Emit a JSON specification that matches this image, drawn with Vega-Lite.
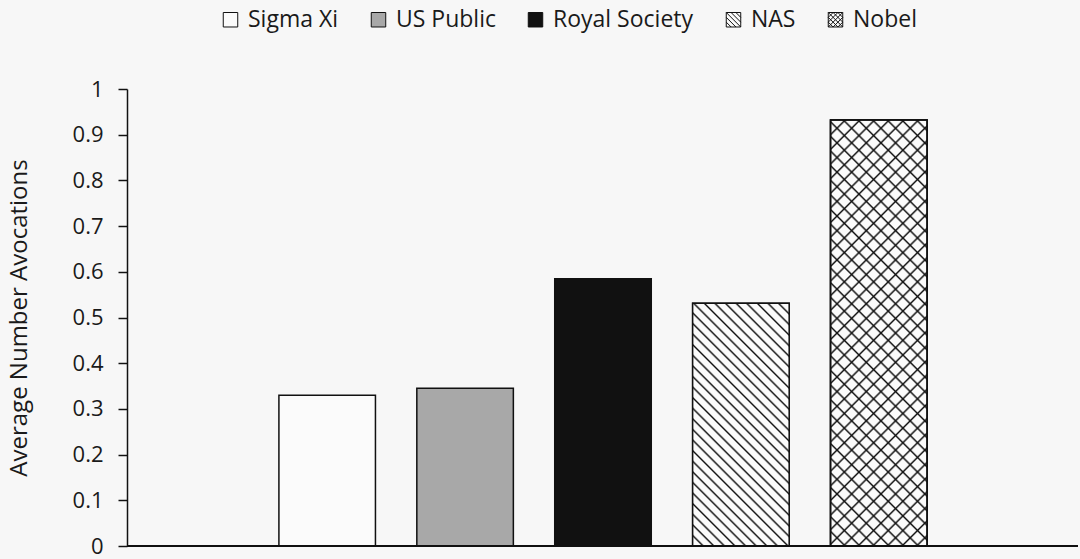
{
  "$schema": "https://vega.github.io/schema/vega-lite/v6.json",
  "width": 951,
  "height": 457,
  "autosize": {"type": "none"},
  "padding": {"left": 127, "top": 89, "right": 2, "bottom": 13},
  "background": "#f7f7f7",
  "data": {"values": [
    {"group": "Sigma Xi", "value": 0.33},
    {"group": "US Public", "value": 0.345},
    {"group": "Royal Society", "value": 0.585},
    {"group": "NAS", "value": 0.531},
    {"group": "Nobel", "value": 0.932}
  ]},
  "layer": [
    {
      "encoding": {
        "x": {"field": "group", "type": "nominal", "sort": ["Sigma Xi", "US Public", "Royal Society", "NAS", "Nobel"],
          "scale": {"paddingInner": 0.3, "paddingOuter": 1, "range": [14, 938]},
          "axis": null},
        "y": {"field": "value", "type": "quantitative",
          "scale": {"domain": [0, 1], "nice": false, "zero": true},
          "axis": {"title": "Average Number Avocations"}}
      },
      "layer": [
        {
          "mark": {"type": "bar", "stroke": "#111", "strokeWidth": 1.5},
          "encoding": {
            "fill": {"field": "group", "type": "nominal",
              "scale": {"domain": ["Sigma Xi", "US Public", "Royal Society", "NAS", "Nobel"], "range": ["#fbfbfb", "#a8a8a8", "#111111", "#fbfbfb", "#fbfbfb"]},
              "legend": {"title": null}}
          }
        },
        {
          "transform": [{"filter": "datum.group === 'NAS'"}],
          "mark": {"type": "bar", "stroke": "#111", "strokeWidth": 1.5,
            "fill": {"gradient": "linear", "x1": 0, "y1": 1, "x2": 0.4798, "y2": -0.2068, "stops": [
              {"offset": 0, "color": "#111"}, {"offset": 0.006, "color": "#fbfbfb"}, {"offset": 0.02525, "color": "#fbfbfb"},
              {"offset": 0.03125, "color": "#111"}, {"offset": 0.03725, "color": "#fbfbfb"}, {"offset": 0.0565, "color": "#fbfbfb"},
              {"offset": 0.0625, "color": "#111"}, {"offset": 0.0685, "color": "#fbfbfb"}, {"offset": 0.08775, "color": "#fbfbfb"},
              {"offset": 0.09375, "color": "#111"}, {"offset": 0.09975, "color": "#fbfbfb"}, {"offset": 0.119, "color": "#fbfbfb"},
              {"offset": 0.125, "color": "#111"}, {"offset": 0.131, "color": "#fbfbfb"}, {"offset": 0.15025, "color": "#fbfbfb"},
              {"offset": 0.15625, "color": "#111"}, {"offset": 0.16225, "color": "#fbfbfb"}, {"offset": 0.1815, "color": "#fbfbfb"},
              {"offset": 0.1875, "color": "#111"}, {"offset": 0.1935, "color": "#fbfbfb"}, {"offset": 0.21275, "color": "#fbfbfb"},
              {"offset": 0.21875, "color": "#111"}, {"offset": 0.22475, "color": "#fbfbfb"}, {"offset": 0.244, "color": "#fbfbfb"},
              {"offset": 0.25, "color": "#111"}, {"offset": 0.256, "color": "#fbfbfb"}, {"offset": 0.27525, "color": "#fbfbfb"},
              {"offset": 0.28125, "color": "#111"}, {"offset": 0.28725, "color": "#fbfbfb"}, {"offset": 0.3065, "color": "#fbfbfb"},
              {"offset": 0.3125, "color": "#111"}, {"offset": 0.3185, "color": "#fbfbfb"}, {"offset": 0.33775, "color": "#fbfbfb"},
              {"offset": 0.34375, "color": "#111"}, {"offset": 0.34975, "color": "#fbfbfb"}, {"offset": 0.369, "color": "#fbfbfb"},
              {"offset": 0.375, "color": "#111"}, {"offset": 0.381, "color": "#fbfbfb"}, {"offset": 0.40025, "color": "#fbfbfb"},
              {"offset": 0.40625, "color": "#111"}, {"offset": 0.41225, "color": "#fbfbfb"}, {"offset": 0.4315, "color": "#fbfbfb"},
              {"offset": 0.4375, "color": "#111"}, {"offset": 0.4435, "color": "#fbfbfb"}, {"offset": 0.46275, "color": "#fbfbfb"},
              {"offset": 0.46875, "color": "#111"}, {"offset": 0.47475, "color": "#fbfbfb"}, {"offset": 0.494, "color": "#fbfbfb"},
              {"offset": 0.5, "color": "#111"}, {"offset": 0.506, "color": "#fbfbfb"}, {"offset": 0.52525, "color": "#fbfbfb"},
              {"offset": 0.53125, "color": "#111"}, {"offset": 0.53725, "color": "#fbfbfb"}, {"offset": 0.5565, "color": "#fbfbfb"},
              {"offset": 0.5625, "color": "#111"}, {"offset": 0.5685, "color": "#fbfbfb"}, {"offset": 0.58775, "color": "#fbfbfb"},
              {"offset": 0.59375, "color": "#111"}, {"offset": 0.59975, "color": "#fbfbfb"}, {"offset": 0.619, "color": "#fbfbfb"},
              {"offset": 0.625, "color": "#111"}, {"offset": 0.631, "color": "#fbfbfb"}, {"offset": 0.65025, "color": "#fbfbfb"},
              {"offset": 0.65625, "color": "#111"}, {"offset": 0.66225, "color": "#fbfbfb"}, {"offset": 0.6815, "color": "#fbfbfb"},
              {"offset": 0.6875, "color": "#111"}, {"offset": 0.6935, "color": "#fbfbfb"}, {"offset": 0.71275, "color": "#fbfbfb"},
              {"offset": 0.71875, "color": "#111"}, {"offset": 0.72475, "color": "#fbfbfb"}, {"offset": 0.744, "color": "#fbfbfb"},
              {"offset": 0.75, "color": "#111"}, {"offset": 0.756, "color": "#fbfbfb"}, {"offset": 0.77525, "color": "#fbfbfb"},
              {"offset": 0.78125, "color": "#111"}, {"offset": 0.78725, "color": "#fbfbfb"}, {"offset": 0.8065, "color": "#fbfbfb"},
              {"offset": 0.8125, "color": "#111"}, {"offset": 0.8185, "color": "#fbfbfb"}, {"offset": 0.83775, "color": "#fbfbfb"},
              {"offset": 0.84375, "color": "#111"}, {"offset": 0.84975, "color": "#fbfbfb"}, {"offset": 0.869, "color": "#fbfbfb"},
              {"offset": 0.875, "color": "#111"}, {"offset": 0.881, "color": "#fbfbfb"}, {"offset": 0.90025, "color": "#fbfbfb"},
              {"offset": 0.90625, "color": "#111"}, {"offset": 0.91225, "color": "#fbfbfb"}, {"offset": 0.9315, "color": "#fbfbfb"},
              {"offset": 0.9375, "color": "#111"}, {"offset": 0.9435, "color": "#fbfbfb"}, {"offset": 0.96275, "color": "#fbfbfb"},
              {"offset": 0.96875, "color": "#111"}, {"offset": 0.97475, "color": "#fbfbfb"}, {"offset": 0.994, "color": "#fbfbfb"},
              {"offset": 1, "color": "#111"}
            ]}}
        },
        {
          "transform": [{"filter": "datum.group === 'Nobel'"}],
          "mark": {"type": "bar", "stroke": "#111", "strokeWidth": 1.5,
            "fill": {"gradient": "linear", "x1": 0, "y1": 1, "x2": 0.2643, "y2": -0.1667, "stops": [
              {"offset": 0, "color": "#111"}, {"offset": 0.004, "color": "#fbfbfb"}, {"offset": 0.024, "color": "#fbfbfb"},
              {"offset": 0.028, "color": "#111"}, {"offset": 0.032, "color": "#fbfbfb"}, {"offset": 0.052, "color": "#fbfbfb"},
              {"offset": 0.056, "color": "#111"}, {"offset": 0.06, "color": "#fbfbfb"}, {"offset": 0.08, "color": "#fbfbfb"},
              {"offset": 0.084, "color": "#111"}, {"offset": 0.088, "color": "#fbfbfb"}, {"offset": 0.108, "color": "#fbfbfb"},
              {"offset": 0.112, "color": "#111"}, {"offset": 0.116, "color": "#fbfbfb"}, {"offset": 0.136, "color": "#fbfbfb"},
              {"offset": 0.14, "color": "#111"}, {"offset": 0.144, "color": "#fbfbfb"}, {"offset": 0.164, "color": "#fbfbfb"},
              {"offset": 0.168, "color": "#111"}, {"offset": 0.172, "color": "#fbfbfb"}, {"offset": 0.192, "color": "#fbfbfb"},
              {"offset": 0.196, "color": "#111"}, {"offset": 0.2, "color": "#fbfbfb"}, {"offset": 0.22, "color": "#fbfbfb"},
              {"offset": 0.224, "color": "#111"}, {"offset": 0.228, "color": "#fbfbfb"}, {"offset": 0.248, "color": "#fbfbfb"},
              {"offset": 0.252, "color": "#111"}, {"offset": 0.256, "color": "#fbfbfb"}, {"offset": 0.276, "color": "#fbfbfb"},
              {"offset": 0.28, "color": "#111"}, {"offset": 0.284, "color": "#fbfbfb"}, {"offset": 0.304, "color": "#fbfbfb"},
              {"offset": 0.308, "color": "#111"}, {"offset": 0.312, "color": "#fbfbfb"}, {"offset": 0.332, "color": "#fbfbfb"},
              {"offset": 0.336, "color": "#111"}, {"offset": 0.34, "color": "#fbfbfb"}, {"offset": 0.36, "color": "#fbfbfb"},
              {"offset": 0.364, "color": "#111"}, {"offset": 0.368, "color": "#fbfbfb"}, {"offset": 0.388, "color": "#fbfbfb"},
              {"offset": 0.392, "color": "#111"}, {"offset": 0.396, "color": "#fbfbfb"}, {"offset": 0.416, "color": "#fbfbfb"},
              {"offset": 0.42, "color": "#111"}, {"offset": 0.424, "color": "#fbfbfb"}, {"offset": 0.444, "color": "#fbfbfb"},
              {"offset": 0.448, "color": "#111"}, {"offset": 0.452, "color": "#fbfbfb"}, {"offset": 0.472, "color": "#fbfbfb"},
              {"offset": 0.476, "color": "#111"}, {"offset": 0.48, "color": "#fbfbfb"}, {"offset": 0.5, "color": "#fbfbfb"},
              {"offset": 0.504, "color": "#111"}, {"offset": 0.508, "color": "#fbfbfb"}, {"offset": 0.528, "color": "#fbfbfb"},
              {"offset": 0.532, "color": "#111"}, {"offset": 0.536, "color": "#fbfbfb"}, {"offset": 0.556, "color": "#fbfbfb"},
              {"offset": 0.56, "color": "#111"}, {"offset": 0.564, "color": "#fbfbfb"}, {"offset": 0.584, "color": "#fbfbfb"},
              {"offset": 0.588, "color": "#111"}, {"offset": 0.592, "color": "#fbfbfb"}, {"offset": 0.612, "color": "#fbfbfb"},
              {"offset": 0.616, "color": "#111"}, {"offset": 0.62, "color": "#fbfbfb"}, {"offset": 0.64, "color": "#fbfbfb"},
              {"offset": 0.644, "color": "#111"}, {"offset": 0.648, "color": "#fbfbfb"}, {"offset": 0.668, "color": "#fbfbfb"},
              {"offset": 0.672, "color": "#111"}, {"offset": 0.676, "color": "#fbfbfb"}, {"offset": 0.696, "color": "#fbfbfb"},
              {"offset": 0.7, "color": "#111"}, {"offset": 0.704, "color": "#fbfbfb"}, {"offset": 0.724, "color": "#fbfbfb"},
              {"offset": 0.728, "color": "#111"}, {"offset": 0.732, "color": "#fbfbfb"}, {"offset": 0.752, "color": "#fbfbfb"},
              {"offset": 0.756, "color": "#111"}, {"offset": 0.76, "color": "#fbfbfb"}, {"offset": 0.78, "color": "#fbfbfb"},
              {"offset": 0.784, "color": "#111"}, {"offset": 0.788, "color": "#fbfbfb"}, {"offset": 0.808, "color": "#fbfbfb"},
              {"offset": 0.812, "color": "#111"}, {"offset": 0.816, "color": "#fbfbfb"}, {"offset": 0.836, "color": "#fbfbfb"},
              {"offset": 0.84, "color": "#111"}, {"offset": 0.844, "color": "#fbfbfb"}, {"offset": 0.864, "color": "#fbfbfb"},
              {"offset": 0.868, "color": "#111"}, {"offset": 0.872, "color": "#fbfbfb"}, {"offset": 0.892, "color": "#fbfbfb"},
              {"offset": 0.896, "color": "#111"}, {"offset": 0.9, "color": "#fbfbfb"}, {"offset": 0.92, "color": "#fbfbfb"},
              {"offset": 0.924, "color": "#111"}, {"offset": 0.928, "color": "#fbfbfb"}, {"offset": 0.948, "color": "#fbfbfb"},
              {"offset": 0.952, "color": "#111"}, {"offset": 0.956, "color": "#fbfbfb"}, {"offset": 0.976, "color": "#fbfbfb"},
              {"offset": 0.98, "color": "#111"}, {"offset": 0.984, "color": "#fbfbfb"}, {"offset": 1, "color": "#fbfbfb"}
            ]}}
        },
        {
          "transform": [{"filter": "datum.group === 'Nobel'"}],
          "mark": {"type": "bar", "stroke": "#111", "strokeWidth": 1.5,
            "fill": {"gradient": "linear", "x1": 0, "y1": 0, "x2": 0.2643, "y2": 1.1667, "stops": [
              {"offset": 0, "color": "#111"}, {"offset": 0.004, "color": "rgba(17,17,17,0)"}, {"offset": 0.024, "color": "rgba(17,17,17,0)"},
              {"offset": 0.028, "color": "#111"}, {"offset": 0.032, "color": "rgba(17,17,17,0)"}, {"offset": 0.052, "color": "rgba(17,17,17,0)"},
              {"offset": 0.056, "color": "#111"}, {"offset": 0.06, "color": "rgba(17,17,17,0)"}, {"offset": 0.08, "color": "rgba(17,17,17,0)"},
              {"offset": 0.084, "color": "#111"}, {"offset": 0.088, "color": "rgba(17,17,17,0)"}, {"offset": 0.108, "color": "rgba(17,17,17,0)"},
              {"offset": 0.112, "color": "#111"}, {"offset": 0.116, "color": "rgba(17,17,17,0)"}, {"offset": 0.136, "color": "rgba(17,17,17,0)"},
              {"offset": 0.14, "color": "#111"}, {"offset": 0.144, "color": "rgba(17,17,17,0)"}, {"offset": 0.164, "color": "rgba(17,17,17,0)"},
              {"offset": 0.168, "color": "#111"}, {"offset": 0.172, "color": "rgba(17,17,17,0)"}, {"offset": 0.192, "color": "rgba(17,17,17,0)"},
              {"offset": 0.196, "color": "#111"}, {"offset": 0.2, "color": "rgba(17,17,17,0)"}, {"offset": 0.22, "color": "rgba(17,17,17,0)"},
              {"offset": 0.224, "color": "#111"}, {"offset": 0.228, "color": "rgba(17,17,17,0)"}, {"offset": 0.248, "color": "rgba(17,17,17,0)"},
              {"offset": 0.252, "color": "#111"}, {"offset": 0.256, "color": "rgba(17,17,17,0)"}, {"offset": 0.276, "color": "rgba(17,17,17,0)"},
              {"offset": 0.28, "color": "#111"}, {"offset": 0.284, "color": "rgba(17,17,17,0)"}, {"offset": 0.304, "color": "rgba(17,17,17,0)"},
              {"offset": 0.308, "color": "#111"}, {"offset": 0.312, "color": "rgba(17,17,17,0)"}, {"offset": 0.332, "color": "rgba(17,17,17,0)"},
              {"offset": 0.336, "color": "#111"}, {"offset": 0.34, "color": "rgba(17,17,17,0)"}, {"offset": 0.36, "color": "rgba(17,17,17,0)"},
              {"offset": 0.364, "color": "#111"}, {"offset": 0.368, "color": "rgba(17,17,17,0)"}, {"offset": 0.388, "color": "rgba(17,17,17,0)"},
              {"offset": 0.392, "color": "#111"}, {"offset": 0.396, "color": "rgba(17,17,17,0)"}, {"offset": 0.416, "color": "rgba(17,17,17,0)"},
              {"offset": 0.42, "color": "#111"}, {"offset": 0.424, "color": "rgba(17,17,17,0)"}, {"offset": 0.444, "color": "rgba(17,17,17,0)"},
              {"offset": 0.448, "color": "#111"}, {"offset": 0.452, "color": "rgba(17,17,17,0)"}, {"offset": 0.472, "color": "rgba(17,17,17,0)"},
              {"offset": 0.476, "color": "#111"}, {"offset": 0.48, "color": "rgba(17,17,17,0)"}, {"offset": 0.5, "color": "rgba(17,17,17,0)"},
              {"offset": 0.504, "color": "#111"}, {"offset": 0.508, "color": "rgba(17,17,17,0)"}, {"offset": 0.528, "color": "rgba(17,17,17,0)"},
              {"offset": 0.532, "color": "#111"}, {"offset": 0.536, "color": "rgba(17,17,17,0)"}, {"offset": 0.556, "color": "rgba(17,17,17,0)"},
              {"offset": 0.56, "color": "#111"}, {"offset": 0.564, "color": "rgba(17,17,17,0)"}, {"offset": 0.584, "color": "rgba(17,17,17,0)"},
              {"offset": 0.588, "color": "#111"}, {"offset": 0.592, "color": "rgba(17,17,17,0)"}, {"offset": 0.612, "color": "rgba(17,17,17,0)"},
              {"offset": 0.616, "color": "#111"}, {"offset": 0.62, "color": "rgba(17,17,17,0)"}, {"offset": 0.64, "color": "rgba(17,17,17,0)"},
              {"offset": 0.644, "color": "#111"}, {"offset": 0.648, "color": "rgba(17,17,17,0)"}, {"offset": 0.668, "color": "rgba(17,17,17,0)"},
              {"offset": 0.672, "color": "#111"}, {"offset": 0.676, "color": "rgba(17,17,17,0)"}, {"offset": 0.696, "color": "rgba(17,17,17,0)"},
              {"offset": 0.7, "color": "#111"}, {"offset": 0.704, "color": "rgba(17,17,17,0)"}, {"offset": 0.724, "color": "rgba(17,17,17,0)"},
              {"offset": 0.728, "color": "#111"}, {"offset": 0.732, "color": "rgba(17,17,17,0)"}, {"offset": 0.752, "color": "rgba(17,17,17,0)"},
              {"offset": 0.756, "color": "#111"}, {"offset": 0.76, "color": "rgba(17,17,17,0)"}, {"offset": 0.78, "color": "rgba(17,17,17,0)"},
              {"offset": 0.784, "color": "#111"}, {"offset": 0.788, "color": "rgba(17,17,17,0)"}, {"offset": 0.808, "color": "rgba(17,17,17,0)"},
              {"offset": 0.812, "color": "#111"}, {"offset": 0.816, "color": "rgba(17,17,17,0)"}, {"offset": 0.836, "color": "rgba(17,17,17,0)"},
              {"offset": 0.84, "color": "#111"}, {"offset": 0.844, "color": "rgba(17,17,17,0)"}, {"offset": 0.864, "color": "rgba(17,17,17,0)"},
              {"offset": 0.868, "color": "#111"}, {"offset": 0.872, "color": "rgba(17,17,17,0)"}, {"offset": 0.892, "color": "rgba(17,17,17,0)"},
              {"offset": 0.896, "color": "#111"}, {"offset": 0.9, "color": "rgba(17,17,17,0)"}, {"offset": 0.92, "color": "rgba(17,17,17,0)"},
              {"offset": 0.924, "color": "#111"}, {"offset": 0.928, "color": "rgba(17,17,17,0)"}, {"offset": 0.948, "color": "rgba(17,17,17,0)"},
              {"offset": 0.952, "color": "#111"}, {"offset": 0.956, "color": "rgba(17,17,17,0)"}, {"offset": 0.976, "color": "rgba(17,17,17,0)"},
              {"offset": 0.98, "color": "#111"}, {"offset": 0.984, "color": "rgba(17,17,17,0)"}, {"offset": 1, "color": "rgba(17,17,17,0)"}
            ]}}
        }
      ]
    },
    {
      "mark": {"type": "rule", "stroke": "#111", "strokeWidth": 1.5},
      "encoding": {"y": {"datum": 0, "type": "quantitative", "axis": {"title": "Average Number Avocations"}}}
    },
    {
      "transform": [{"filter": "datum.value < 0"}],
      "mark": {"type": "point", "filled": true, "opacity": 1, "stroke": "#111", "strokeWidth": 1},
      "encoding": {
        "fill": {"field": "group", "type": "nominal", "legend": {"title": null}},
        "shape": {"field": "group", "type": "nominal",
          "scale": {"domain": ["Sigma Xi", "US Public", "Royal Society", "NAS", "Nobel"], "range": [
            "M-1,-1H1V1H-1Z",
            "M-1,-1H1V1H-1Z",
            "M-1,-1H1V1H-1Z",
            "M-1,-1H1V1H-1Z M-1,-1L1,1 M-0.33,-1L1,0.33 M0.33,-1L1,-0.33 M-1,-0.33L0.33,1 M-1,0.33L-0.33,1",
            "M-1,-1H1V1H-1Z M-1,-1L1,1 M-0.33,-1L1,0.33 M0.33,-1L1,-0.33 M-1,-0.33L0.33,1 M-1,0.33L-0.33,1 M1,-1L-1,1 M0.33,-1L-1,0.33 M-0.33,-1L-1,-0.33 M1,-0.33L-0.33,1 M1,0.33L0.33,1"
          ]},
          "legend": {"title": null}}
      }
    }
  ],
  "config": {
    "view": {"stroke": null},
    "axisY": {"values": [0, 0.1, 0.2, 0.3, 0.4, 0.5, 0.6, 0.7, 0.8, 0.9, 1], "format": "~g",
      "grid": false, "domainColor": "#111", "domainWidth": 1.5, "tickColor": "#111", "tickWidth": 1.5, "tickSize": 9,
      "labelPadding": 15, "labelFont": "Open Sans", "labelFontSize": 22, "labelColor": "#1a1a1a",
      "titleFont": "Open Sans", "titleFontSize": 24, "titleFontWeight": "normal", "titleColor": "#1a1a1a", "titlePadding": 41},
    "legend": {"orient": "none", "legendX": 92, "legendY": -81, "direction": "horizontal",
      "labelFont": "Open Sans", "labelFontSize": 23, "labelColor": "#1a1a1a", "labelOffset": 6,
      "symbolSize": 210, "symbolStrokeColor": "#111", "symbolStrokeWidth": 1, "columnPadding": 28, "padding": 0}
  }
}
